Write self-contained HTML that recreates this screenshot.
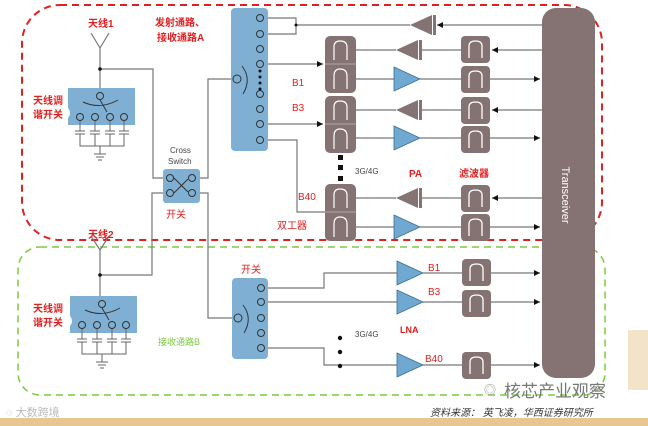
<!DOCTYPE html>
<html><head><meta charset="utf-8"><style>
html,body{margin:0;padding:0;background:#fff;width:648px;height:426px;overflow:hidden}
svg{display:block}
text{font-family:"Liberation Sans","Noto Sans CJK SC",sans-serif}
</style></head><body>
<svg width="648" height="426" viewBox="0 0 648 426" xmlns="http://www.w3.org/2000/svg">
<defs>
<marker id="ar" markerWidth="6" markerHeight="6" refX="5" refY="3" orient="auto"><path d="M0,0.5 L5,3 L0,5.5z" fill="#111"/></marker>
<g id="filt"><rect x="0" y="0" width="29" height="27" rx="4" fill="#857373"/><path d="M8,22 V10 Q8,5 14.5,5 Q21,5 21,10 V22" fill="none" stroke="#fff" stroke-width="1.3"/></g>
<g id="pa"><path d="M0,0 L22,-10 V10z" fill="#857373"/><rect x="23" y="-10" width="3" height="20" fill="#857373"/></g>
<g id="lna"><path d="M0,-12 L26,0 L0,12z" fill="#6fa8d0" stroke="#3b6f95" stroke-width="0.8"/></g>
</defs>
<rect x="0" y="418" width="648" height="8" fill="#e9c690"/>
<rect x="628" y="330" width="20" height="60" fill="#f3e3c8"/>
<!-- dashed boxes -->
<rect x="22" y="5" width="580" height="235" rx="38" fill="none" stroke="#e02020" stroke-width="2" stroke-dasharray="7,5"/>
<rect x="18" y="247" width="587" height="148" rx="22" fill="none" stroke="#7ccc40" stroke-width="1.5" stroke-dasharray="7,5"/>
<!-- transceiver -->
<rect x="542" y="8" width="53" height="370" rx="14" fill="#857373"/>
<text x="562" y="195" fill="#fff" font-size="11" transform="rotate(90 562 195)" text-anchor="middle">Transceiver</text>
<g stroke="#777" stroke-width="1.2" fill="none">
<!-- top -->
<line x1="542" y1="25" x2="437" y2="25" marker-end="url(#ar)"/>
<line x1="410" y1="25" x2="296" y2="25"/>
<path d="M296,25 V18 H267 M296,25 V34 H267"/>
<line x1="542" y1="50" x2="492" y2="50" marker-end="url(#ar)"/>
<line x1="461" y1="50" x2="420" y2="50"/><line x1="396" y1="50" x2="355" y2="50"/>
<line x1="355" y1="79" x2="394" y2="79"/><line x1="420" y1="79" x2="461" y2="79"/>
<line x1="490" y1="79" x2="540" y2="79" marker-end="url(#ar)"/>
<line x1="542" y1="110" x2="492" y2="110" marker-end="url(#ar)"/>
<line x1="461" y1="110" x2="420" y2="110"/><line x1="396" y1="110" x2="355" y2="110"/>
<line x1="355" y1="138" x2="394" y2="138"/><line x1="420" y1="138" x2="461" y2="138"/>
<line x1="490" y1="138" x2="540" y2="138" marker-end="url(#ar)"/>
<line x1="542" y1="198" x2="492" y2="198" marker-end="url(#ar)"/>
<line x1="461" y1="198" x2="420" y2="198"/><line x1="396" y1="198" x2="355" y2="198"/>
<line x1="355" y1="227" x2="394" y2="227"/><line x1="420" y1="227" x2="461" y2="227"/>
<line x1="490" y1="227" x2="540" y2="227" marker-end="url(#ar)"/>
<line x1="264" y1="64" x2="323" y2="64" marker-end="url(#ar)"/>
<line x1="264" y1="124" x2="323" y2="124" marker-end="url(#ar)"/>
<path d="M264,140 H297 V212 H325"/>
<!-- antenna 1 path -->
<path d="M100,48 V69 H153 V178 H166"/>
<path d="M100,69 V92"/>
<path d="M197,178 H208 V79 H233"/>
<path d="M166,193 H152 V275 H100 V300"/>
<path d="M100,250 V275"/>
<path d="M197,193 H208 V318 H236"/>
<!-- bottom -->
<path d="M264,288 H324 V273 H397"/>
<line x1="264" y1="302" x2="397" y2="302"/>
<path d="M264,348 H324 V365 H397"/>
<line x1="423" y1="273" x2="462" y2="273"/><line x1="423" y1="302" x2="462" y2="302"/><line x1="423" y1="365" x2="462" y2="365"/>
<line x1="491" y1="273" x2="540" y2="273" marker-end="url(#ar)"/>
<line x1="491" y1="302" x2="540" y2="302" marker-end="url(#ar)"/>
<line x1="491" y1="365" x2="540" y2="365" marker-end="url(#ar)"/>
</g>
<circle cx="100" cy="69" r="1.8" fill="#111"/><circle cx="100" cy="275" r="1.8" fill="#111"/>
<circle cx="296" cy="25" r="1.5" fill="#111"/>
<!-- antennas -->
<path d="M91,33 L100,48 L109,33" fill="none" stroke="#777" stroke-width="1.2"/>
<path d="M91,236 L100,250 L109,236" fill="none" stroke="#777" stroke-width="1.2"/>
<!-- top switch -->
<rect x="231" y="8" width="37" height="143" rx="4" fill="#7fb0d3"/>
<g fill="none" stroke="#333" stroke-width="1">
<circle cx="260" cy="18" r="3.5"/><circle cx="260" cy="34" r="3.5"/><circle cx="260" cy="49" r="3.5"/><circle cx="260" cy="64" r="3.5"/>
<circle cx="260" cy="94" r="3.5"/><circle cx="260" cy="109" r="3.5"/><circle cx="260" cy="124" r="3.5"/><circle cx="260" cy="140" r="3.5"/>
<circle cx="237" cy="79" r="4"/>
<path d="M242,66 Q252,79 243,94"/>
</g>
<circle cx="260" cy="71" r="1.5" fill="#111"/><circle cx="260" cy="77" r="1.5" fill="#111"/><circle cx="260" cy="83" r="1.5" fill="#111"/><circle cx="260" cy="89" r="1.5" fill="#111"/>
<!-- cross switch -->
<rect x="163" y="169" width="37" height="34" rx="3" fill="#7fb0d3"/>
<g fill="none" stroke="#333" stroke-width="1">
<circle cx="170" cy="178" r="3.5"/><circle cx="170" cy="193" r="3.5"/><circle cx="192" cy="178" r="3.5"/><circle cx="192" cy="193" r="3.5"/>
<path d="M174,178 L188,192 M174,193 L188,179"/></g>
<!-- bottom switch -->
<rect x="232" y="278" width="36" height="81" rx="4" fill="#7fb0d3"/>
<g fill="none" stroke="#333" stroke-width="1">
<circle cx="261" cy="288" r="3.5"/><circle cx="261" cy="302" r="3.5"/><circle cx="261" cy="318" r="3.5"/><circle cx="261" cy="333" r="3.5"/><circle cx="261" cy="348" r="3.5"/>
<circle cx="238" cy="318" r="4"/><path d="M243,305 Q253,318 244,333"/></g>
<!-- tuners -->
<g id="tun">
<path d="M68,88 H135 V125 H68 V118 Q72,113 68,108z" fill="#7fb0d3"/>
<g fill="none" stroke="#333" stroke-width="1">
<circle cx="100" cy="96" r="3.5"/>
<circle cx="80" cy="117" r="3.5"/><circle cx="95" cy="117" r="3.5"/><circle cx="110" cy="117" r="3.5"/><circle cx="124" cy="117" r="3.5"/>
<path d="M83,102 Q100,110 118,100"/><path d="M100,100 L107,112"/>
</g>
<g stroke="#666" stroke-width="1" fill="none">
<path d="M80,121 V131 M95,121 V131 M110,121 V131 M124,121 V131"/>
<path d="M75,131 H85 M75,134 H85 M90,131 H100 M90,134 H100 M105,131 H115 M105,134 H115 M119,131 H129 M119,134 H129"/>
<path d="M80,134 V146 H124 V134 M95,134 V146 M110,134 V146 M100,146 V154"/>
<path d="M94,154 H106 M96,157 H104 M98,160 H102"/>
</g>
</g>
<use href="#tun" transform="translate(2,208)"/>
<!-- duplexers & filters -->
<rect x="325" y="36" width="31" height="57" rx="5" fill="#857373"/><line x1="325" y1="64" x2="356" y2="64" stroke="#aaa"/>
<rect x="325" y="96" width="31" height="57" rx="5" fill="#857373"/><line x1="325" y1="124" x2="356" y2="124" stroke="#aaa"/>
<rect x="325" y="184" width="31" height="57" rx="5" fill="#857373"/><line x1="325" y1="212" x2="356" y2="212" stroke="#aaa"/>
<g fill="none" stroke="#fff" stroke-width="1.2">
<path d="M334,60 V47 Q334,41 340,41 Q347,41 347,47 V60 M334,89 V76 Q334,69 340,69 Q347,69 347,76 V89"/>
<path transform="translate(0,60)" d="M334,60 V47 Q334,41 340,41 Q347,41 347,47 V60 M334,89 V76 Q334,69 340,69 Q347,69 347,76 V89"/>
<path transform="translate(0,148)" d="M334,60 V47 Q334,41 340,41 Q347,41 347,47 V60 M334,89 V76 Q334,69 340,69 Q347,69 347,76 V89"/>
</g>
<use href="#filt" x="461" y="36"/><use href="#filt" x="461" y="66"/><use href="#filt" x="461" y="97"/><use href="#filt" x="461" y="126"/><use href="#filt" x="461" y="185"/><use href="#filt" x="461" y="214"/>
<use href="#filt" x="462" y="259"/><use href="#filt" x="462" y="290"/><use href="#filt" x="462" y="352"/>
<use href="#pa" x="410" y="25"/><use href="#pa" x="396" y="50"/><use href="#pa" x="396" y="110"/><use href="#pa" x="396" y="198"/>
<use href="#lna" x="394" y="79"/><use href="#lna" x="394" y="138"/><use href="#lna" x="394" y="227"/>
<use href="#lna" x="397" y="273"/><use href="#lna" x="397" y="302"/><use href="#lna" x="397" y="365"/>
<rect x="338" y="155" width="5" height="5" fill="#111"/><rect x="338" y="165" width="5" height="5" fill="#111"/><rect x="338" y="176" width="5" height="5" fill="#111"/>
<circle cx="340" cy="338" r="2.2" fill="#111"/><circle cx="340" cy="352" r="2.2" fill="#111"/><circle cx="340" cy="366" r="2.2" fill="#111"/>
<!-- labels -->
<g fill="#e02020" font-size="10" font-weight="bold">
<text x="88" y="27">天线1</text><text x="88" y="238">天线2</text>
<text x="155" y="26">发射通路、</text><text x="157" y="41">接收通路A</text>
<text x="33" y="104">天线调</text><text x="33" y="118">谐开关</text>
<text x="33" y="312">天线调</text><text x="33" y="326">谐开关</text>
<text x="166" y="218" font-weight="normal">开关</text>
<text x="241" y="273" font-weight="normal">开关</text>
<text x="277" y="229" font-weight="normal">双工器</text>
<text x="409" y="177">PA</text><text x="459" y="177">滤波器</text>
<text x="400" y="333" font-size="9">LNA</text>
</g>
<g fill="#e02020" font-size="10">
<text x="292" y="86">B1</text><text x="292" y="111">B3</text><text x="298" y="200">B40</text>
<text x="428" y="271">B1</text><text x="428" y="295">B3</text><text x="425" y="362">B40</text>
</g>
<text x="158" y="345" fill="#7ccc40" font-size="9">接收通路B</text>
<g fill="#444" font-size="8"><text x="170" y="153">Cross</text><text x="168" y="164">Switch</text>
<text x="355" y="174">3G/4G</text><text x="355" y="337">3G/4G</text></g>
<text x="504" y="397" fill="#777" font-size="17">核芯产业观察</text>
<text x="484" y="394" fill="#999" font-size="12">◎</text>
<text x="430" y="416" fill="#333" font-size="10" font-style="italic">资料来源： 英飞凌，华西证券研究所</text>
<text x="6" y="416" fill="#bbb" font-size="11">◌ 大数跨境</text>
</svg>
</body></html>
